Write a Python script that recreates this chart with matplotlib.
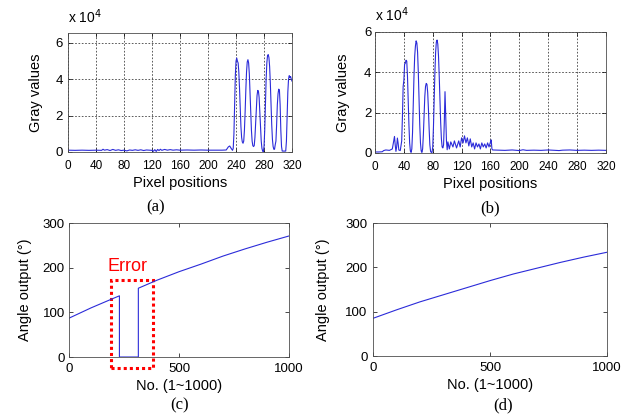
import numpy as np
import matplotlib
matplotlib.use('Agg')
import matplotlib.pyplot as plt
from matplotlib.patches import Rectangle

plt.rcParams['font.family'] = ['Liberation Sans', 'DejaVu Sans']

# ---- (a) gray values vs pixel position (values in units of 1e4) ----
A_POS = [0, 10, 20, 30, 40, 48, 50, 52, 56, 60, 64, 68, 72, 76, 80, 84, 88, 92, 96, 100,
         104, 108, 112, 116, 120, 122, 124, 126, 128, 130, 132, 134, 138, 142, 146, 150,
         155, 160, 170, 180, 190, 200, 210, 220, 226, 229, 231, 233, 235,
         236, 237, 238, 239, 240, 241, 242, 243, 244, 245, 246, 247, 248, 249, 250,
         251, 252, 253, 254, 255, 256, 257, 258, 259, 260, 261, 262, 263, 264, 265,
         266, 267, 268, 269, 270, 271, 272, 273, 274, 275, 276, 277, 278, 279, 280,
         281, 282, 283, 284, 285, 286, 287, 288, 289, 290, 291, 292, 293, 294, 295,
         296, 297, 298, 299, 300, 301, 302, 303, 304, 305, 306, 308, 310, 311, 312,
         313, 314, 315, 316, 317, 318, 319, 320]
A_VAL = [0.10, 0.09, 0.10, 0.09, 0.10, 0.09, 0.15, 0.10, 0.13, 0.08, 0.14, 0.09, 0.12, 0.08,
         0.10, 0.06, 0.11, 0.09, 0.12, 0.09, 0.12, 0.08, 0.11, 0.10, 0.09, 0.04, 0.13, 0.03,
         0.14, 0.08, 0.15, 0.09, 0.14, 0.10, 0.13, 0.10, 0.12, 0.10, 0.11, 0.10, 0.11, 0.10,
         0.10, 0.10, 0.11, 0.28, 0.33, 0.20, 0.09,
         0.20, 1.0, 2.5, 4.2, 5.0, 5.17, 5.0, 4.9, 4.4, 3.5, 2.4, 1.4, 0.8, 0.55, 0.48,
         0.6, 1.2, 2.2, 3.4, 4.4, 4.95, 5.08, 4.9, 4.3, 3.3, 2.2, 1.2, 0.6, 0.35, 0.3,
         0.35, 0.8, 1.6, 2.5, 3.1, 3.39, 3.35, 3.0, 2.2, 1.3, 0.6, 0.2, 0.05, 0.02, 0.3,
         1.2, 2.6, 4.0, 4.9, 5.3, 5.36, 5.2, 4.7, 3.8, 2.6, 1.5, 0.7, 0.3, 0.15, 0.15,
         0.4, 0.6, 1.5, 2.6, 3.2, 3.46, 3.4, 2.6, 1.2, 0.3, 0.05, 0.05, 0.05, 0.05, 0.6,
         2.0, 3.3, 4.0, 4.2, 4.1, 4.15, 4.0, 3.9]

# ---- (b) gray values vs pixel position (values in units of 1e4) ----
B_POS = [0, 5, 10, 12, 15, 20, 24, 26, 27, 28, 29, 30, 31, 32, 33, 35, 37, 38, 39, 40,
         41, 42, 43, 44, 45, 46, 47, 48, 49, 50, 51, 52, 53, 54, 55, 56, 57, 58, 59,
         60, 61, 62, 63, 64, 65, 66, 67, 68, 69, 70, 71, 72, 73, 74, 75, 76, 77, 78,
         79, 80, 81, 82, 83, 84, 85, 86, 87, 88, 89, 90, 91, 92, 93, 94, 95, 96, 97,
         98, 99, 100, 101, 103, 105, 108, 110, 113, 116, 118, 120, 122, 124, 126, 128,
         130, 132, 134, 136, 138, 140, 142, 144, 146, 148, 150, 152, 154, 156, 158,
         160, 161, 162, 163, 170, 180, 190, 200, 205, 210, 220, 230, 240, 250, 255,
         260, 270, 280, 290, 300, 310, 320]
B_VAL = [0.05, 0.05, 0.06, 0.12, 0.15, 0.13, 0.2, 0.6, 0.82, 0.4, 0.08, 0.3, 0.74, 0.5,
         0.15, 0.12, 0.6, 1.8, 3.3, 3.6, 4.4, 4.45, 4.6, 4.55, 3.8, 2.6, 1.4, 0.5, 0.1,
         0.03, 0.2, 1.0, 2.4, 3.8, 4.8, 5.3, 5.56, 5.45, 5.0, 4.0, 2.7, 1.4, 0.5, 0.1,
         0.03, 0.2, 0.9, 1.9, 2.8, 3.3, 3.45, 3.4, 3.0, 2.2, 1.2, 0.4, 0.08, 0.03,
         0.03, 0.3, 1.3, 2.7, 4.0, 5.0, 5.5, 5.6, 5.4, 4.8, 3.8, 2.6, 1.5, 0.7, 0.3,
         0.25, 0.4, 1.5, 3.04, 1.8, 0.6, 0.16, 0.55, 0.2, 0.55, 0.3, 0.6, 0.25, 0.6, 0.3,
         0.75, 0.5, 0.85, 0.5, 0.75, 0.35, 0.7, 0.3, 0.5, 0.2, 0.5, 0.3, 0.45, 0.2, 0.5,
         0.3, 0.45, 0.25, 0.5, 0.3, 0.55, 0.65, 0.2, 0.15, 0.14, 0.13, 0.15, 0.12, 0.16,
         0.13, 0.14, 0.13, 0.15, 0.13, 0.12, 0.14, 0.15, 0.13, 0.14, 0.13, 0.14, 0.13]

# ---- (c) angle output with error ----
C_NO = [0, 100, 200, 229, 229, 315, 315, 400, 500, 600, 700, 800, 900, 1000]
C_ANG = [87, 110, 131, 137, 0, 0, 154, 172, 191, 208, 226, 242, 257, 271]

# ---- (d) angle output, corrected ----
D_NO = [0, 100, 200, 300, 400, 500, 600, 700, 800, 900, 1000]
D_ANG = [85, 104, 122, 138, 154, 170, 185, 198, 211, 223, 234]

ERR_BOX = (191, -25, 192, 197)   # x, y, width, height in (c) data units
ERR_TXT = (266, 202)

LINE = '#2b2bd9'
fig = plt.figure(figsize=(6.31, 4.18), dpi=100)
axa = fig.add_axes([0.1078, 0.6364, 0.355, 0.2847])
axb = fig.add_axes([0.5943, 0.634, 0.366, 0.2895])
axc = fig.add_axes([0.1094, 0.1459, 0.3487, 0.3206])
axd = fig.add_axes([0.5911, 0.1483, 0.3708, 0.3182])

for ax, x, y, ymax, ypad, ylp, toff in [(axa, A_POS, A_VAL, 6.55, 3.5, 9, 1.06),
                                        (axb, B_POS, B_VAL, 6.0, 2.5, 10, 1.07)]:
    ax.plot(x, y, color=LINE, lw=0.8)
    ax.set_xlim(0, 320)
    ax.set_ylim(0, ymax)
    ax.set_xticks(range(0, 321, 40))
    ax.set_yticks([0, 2, 4, 6])
    ax.grid(True, color='0.25', linestyle=(0, (2, 2)), lw=0.6)
    ax.tick_params(axis='x', labelsize=8.5, pad=5.5)
    ax.tick_params(axis='y', labelsize=9.5, pad=ypad)
    ax.set_xlabel('Pixel positions', fontsize=10.5, labelpad=3)
    ax.set_ylabel('Gray values', fontsize=10.5, labelpad=ylp)
    ax.text(0, toff, r'x 10$^4$', transform=ax.transAxes, fontsize=10, va='bottom')

for ax, x, y, ypad, ylp in [(axc, C_NO, C_ANG, 3, 8), (axd, D_NO, D_ANG, 4, 11)]:
    ax.plot(x, y, color=LINE, lw=0.8)
    ax.set_xlim(0, 1000)
    ax.set_ylim(0, 300)
    ax.set_xticks([0, 500, 1000])
    ax.set_yticks([0, 100, 200, 300])
    ax.tick_params(axis='x', labelsize=9.5, pad=4.5)
    ax.tick_params(axis='y', labelsize=9.5, pad=ypad)
    ax.set_xlabel('No. (1~1000)', fontsize=10.5, labelpad=3)
    ax.set_ylabel('Angle output (°)', fontsize=10.5, labelpad=ylp)

for ax in (axa, axb, axc, axd):
    ax.tick_params(direction='in', top=True, right=True, length=3, width=0.5)
    for s in ax.spines.values():
        s.set_linewidth(0.6)
        s.set_color('0.3')

axc.add_patch(Rectangle(ERR_BOX[:2], ERR_BOX[2], ERR_BOX[3], fill=False,
                        edgecolor='red', lw=2.2, linestyle=(0, (1, 1)), clip_on=False))
axc.text(*ERR_TXT, 'Error', color='red', fontsize=13, ha='center', va='center')

for lbl, x, y in [('(a)', 0.246, 0.505), ('(b)', 0.777, 0.502),
                  ('(c)', 0.285, 0.031), ('(d)', 0.797, 0.031)]:
    fig.text(x, y, lbl, fontsize=12, family='Liberation Serif', ha='center', va='center')

fig.savefig('out.png', dpi=100)
